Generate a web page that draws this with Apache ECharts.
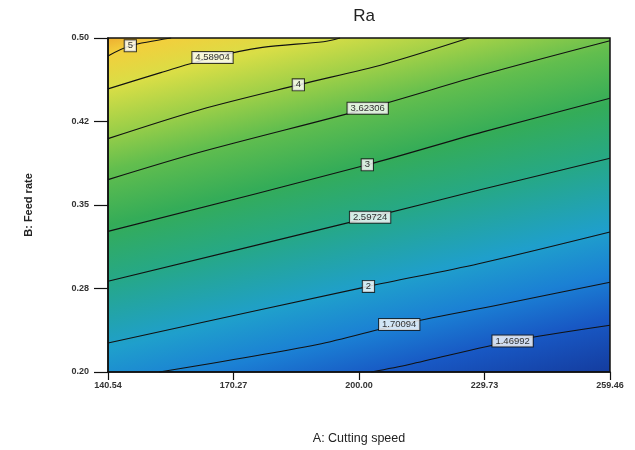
<!DOCTYPE html>
<html>
<head>
<meta charset="utf-8">
<script src="https://cdn.jsdelivr.net/npm/echarts@6/dist/echarts.min.js"></script>
<style>
html,body{margin:0;padding:0;background:#fff;}
#chart{width:635px;height:450px;}
</style>
</head>
<body>
<div id="chart"></div>
<script>
// ---- data ----
const chartTitle = 'Ra';
const xName = 'A: Cutting speed';
const yName = 'B: Feed rate';
const xTicks = [140.54, 170.27, 200.00, 229.73, 259.46];
const yTicks = [0.20, 0.275, 0.35, 0.425, 0.50];
const xTickLabels = ['140.54', '170.27', '200.00', '229.73', '259.46'];
const yTickLabels = ['0.20', '0.28', '0.35', '0.42', '0.50'];

const levels = [5, 4.58904, 4, 3.62306, 3, 2.59724, 2, 1.70094, 1.46992];
const levelText = ['5', '4.58904', '4', '3.62306', '3', '2.59724', '2', '1.70094', '1.46992'];

// contour lines [cutting speed, feed rate]
const c5       = [[140.54, 0.4839], [145.83, 0.4930], [155.5, 0.5000]];
const c4_58904 = [[140.54, 0.4543], [153.03, 0.4689], [165.30, 0.4825], [177.12, 0.4916], [191.59, 0.4967], [195.5, 0.5000]];
const c4       = [[140.54, 0.4096], [162.55, 0.4358], [185.63, 0.4579], [205.91, 0.4765], [225.99, 0.5000]];
const c3_62306 = [[140.54, 0.3728], [162.47, 0.3976], [202.06, 0.4368], [229.90, 0.4676], [259.46, 0.4975]];
const c3       = [[140.54, 0.3263], [201.97, 0.3861], [229.41, 0.4157], [259.46, 0.4458]];
const c2_59724 = [[140.54, 0.2815], [202.63, 0.3389], [228.95, 0.3639], [259.46, 0.3920]];
const c2       = [[140.54, 0.2260], [202.24, 0.2769], [228.33, 0.2973], [259.46, 0.3258]];
const c1_70094 = [[152.7, 0.2000], [190.20, 0.2247], [209.53, 0.2426], [232.70, 0.2600], [259.46, 0.2806]];
const c1_46992 = [[202.9, 0.2000], [211.86, 0.2068], [236.39, 0.2279], [259.46, 0.2420]];
const contours = [c5, c4_58904, c4, c3_62306, c3, c2_59724, c2, c1_70094, c1_46992];
const labelIndex = [1, 2, 2, 2, 1, 1, 1, 2, 2];

// ---- styles ----
const levelColors = ['#f2cf3c', '#d9de46', '#9ccf48', '#62be4e', '#34ac58', '#26a886', '#1f9fcc', '#1b80d4', '#1858c4'];
const highCorner = '#eeae30';
const lowCorner = '#143a9c';
const G = {left: 108, right: 25, top: 38, bottom: 74};
const FONT = '"Liberation Sans", Arial, sans-serif';

const chart = echarts.init(document.getElementById('chart'), null, {renderer: 'canvas'});

const series = contours.map((c, i) => ({
  type: 'line',
  data: c,
  smooth: 0.3,
  symbol: 'none',
  lineStyle: {color: '#111', width: 1.1},
  silent: true,
  z: 3
}));
series.push({
  type: 'scatter',
  symbolSize: 0,
  z: 5,
  silent: true,
  data: contours.map((c, i) => ({value: c[labelIndex[i]], name: levelText[i]})),
  label: {
    show: true,
    position: 'inside',
    formatter: p => p.name,
    fontFamily: FONT,
    fontSize: 9.5,
    color: '#000',
    backgroundColor: '#fff',
    borderColor: '#111',
    borderWidth: 1,
    padding: [1, 3, 0, 3]
  }
});

const option = {
  animation: false,
  backgroundColor: '#fff',
  title: {
    text: chartTitle,
    left: 359,
    top: 3,
    textAlign: 'center',
    textStyle: {fontFamily: FONT, fontSize: 17, fontWeight: 'normal', color: '#222'}
  },
  grid: Object.assign({show: true, borderColor: '#111', borderWidth: 1.5, backgroundColor: '#3ab060'}, G),
  xAxis: {
    type: 'value',
    min: xTicks[0], max: xTicks[xTicks.length - 1],
    name: xName, nameLocation: 'middle', nameGap: 60,
    nameTextStyle: {fontFamily: FONT, fontSize: 12.5, color: '#222'},
    axisLine: {show: true, lineStyle: {color: '#111', width: 1.5}},
    axisTick: {show: true, length: 8, customValues: xTicks, lineStyle: {color: '#111', width: 1.2}},
    axisLabel: {
      customValues: xTicks, margin: 9,
      formatter: v => { const k = xTicks.findIndex(t => Math.abs(t - v) < 1e-6); return k >= 0 ? xTickLabels[k] : ''; },
      fontFamily: FONT, fontSize: 9, fontWeight: 'bold', color: '#333'
    },
    splitLine: {show: false}
  },
  yAxis: {
    type: 'value',
    min: yTicks[0], max: yTicks[yTicks.length - 1],
    name: yName, nameLocation: 'middle', nameGap: 74,
    nameTextStyle: {fontFamily: FONT, fontSize: 11, fontWeight: 'bold', color: '#222'},
    axisLine: {show: true, lineStyle: {color: '#111', width: 1.5}},
    axisTick: {show: true, length: 14, customValues: yTicks, lineStyle: {color: '#111', width: 1.2}},
    axisLabel: {
      customValues: yTicks, margin: 19,
      formatter: v => { const k = yTicks.findIndex(t => Math.abs(t - v) < 1e-6); return k >= 0 ? yTickLabels[k] : ''; },
      fontFamily: FONT, fontSize: 9, fontWeight: 'bold', color: '#333'
    },
    splitLine: {show: false}
  },
  series: series
};
chart.setOption(option);

// ---- background gradient oriented across the contour lines ----
(function () {
  const W = 635, H = 450;
  const x0 = G.left, y0 = G.top, x1 = W - G.right, y1 = H - G.bottom;
  const px = p => chart.convertToPixel({gridIndex: 0}, p);
  let dx = 0, dy = 0;
  contours.forEach(c => {
    if (c.length < 4) return;
    const a = px(c[0]), b = px(c[c.length - 1]);
    dx += b[0] - a[0]; dy += b[1] - a[1];
  });
  const len = Math.hypot(dx, dy);
  const nx = -dy / len, ny = dx / len;
  const proj = p => p[0] * nx + p[1] * ny;
  const sMin = proj([x0, y0]), sMax = proj([x1, y1]);
  const stops = [{offset: 0, color: highCorner}];
  let last = 0;
  contours.forEach((c, i) => {
    let s = 0;
    c.forEach(pt => { s += proj(px(pt)); });
    s /= c.length;
    let off = (s - sMin) / (sMax - sMin);
    off = Math.min(0.999, Math.max(last + 0.001, off));
    last = off;
    stops.push({offset: off, color: levelColors[i]});
  });
  stops.push({offset: 1, color: lowCorner});
  const L = sMax - sMin;
  chart.setOption({
    grid: {
      backgroundColor: {
        type: 'linear', global: true,
        x: x0, y: y0, x2: x0 + nx * L, y2: y0 + ny * L,
        colorStops: stops
      }
    }
  });
})();
</script>
</body>
</html>
